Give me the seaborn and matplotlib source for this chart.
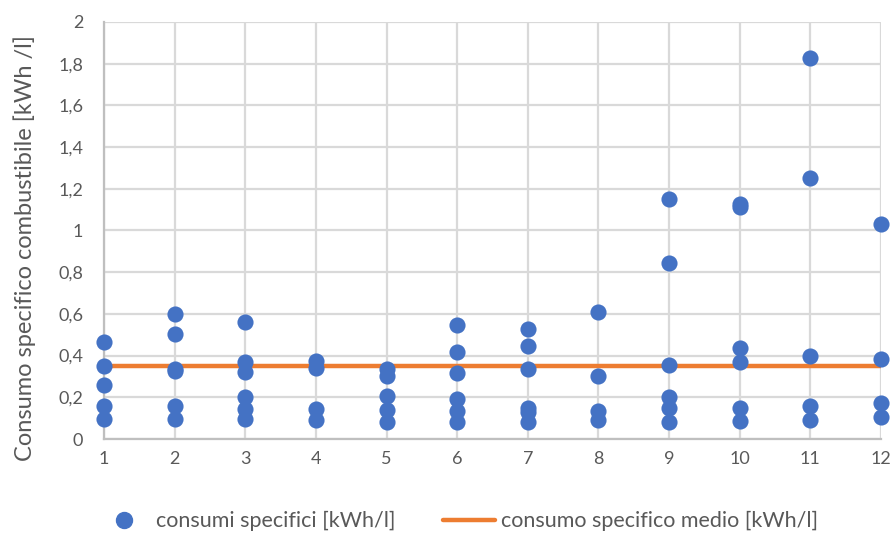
import matplotlib
matplotlib.use("Agg")
import matplotlib.pyplot as plt
from matplotlib.lines import Line2D
from matplotlib.ticker import FuncFormatter, MultipleLocator
import seaborn as sns
import pandas as pd

# Specific consumption readings per group (kWh/l)
g1 = [0.467, 0.352, 0.258, 0.160, 0.097]
g2 = [0.598, 0.504, 0.335, 0.325, 0.160, 0.097]
g3 = [0.560, 0.368, 0.320, 0.203, 0.144, 0.096]
g4 = [0.374, 0.339, 0.144, 0.091]
g5 = [0.335, 0.300, 0.208, 0.140, 0.082]
g6 = [0.547, 0.416, 0.318, 0.192, 0.136, 0.083]
g7 = [0.528, 0.448, 0.334, 0.147, 0.130, 0.082]
g8 = [0.610, 0.302, 0.136, 0.091]
g9 = [1.149, 0.843, 0.355, 0.203, 0.147, 0.083]
g10 = [1.125, 1.115, 0.435, 0.371, 0.147, 0.088]
g11 = [1.826, 1.250, 0.398, 0.158, 0.091]
g12 = [1.031, 0.384, 0.174, 0.104]
groups = [1, 2, 3, 4, 5, 6, 7, 8, 9, 10, 11, 12]
readings = [g1, g2, g3, g4, g5, g6, g7, g8, g9, g10, g11, g12]

# Average specific consumption
mean_value = 0.352

labels = ["consumi specifici [kWh/l]", "consumo specifico medio [kWh/l]"]
y_title = "Consumo specifico combustibile [kWh /l]"

points = pd.DataFrame(
    [(g, v) for g, vals in zip(groups, readings) for v in vals],
    columns=["gruppo", "consumo"],
)
mean_df = pd.DataFrame({"gruppo": [groups[0], groups[-1]],
                        "consumo": [mean_value, mean_value]})

sns.set_theme(style="white")
plt.rcParams["font.family"] = ["Lato", "DejaVu Sans"]

blue = "#4472C4"
orange = "#ED7D31"
text_col = "#595959"
grid_col = "#D9D9D9"

fig = plt.figure(figsize=(8.95, 5.34), dpi=100)
ax = fig.add_axes([104 / 895, 1 - 439 / 534, (881 - 104) / 895, (439 - 22) / 534])

sns.lineplot(data=mean_df, x="gruppo", y="consumo", ax=ax, color=orange,
             linewidth=3.2, zorder=3, legend=False)
sns.scatterplot(data=points, x="gruppo", y="consumo", ax=ax, color=blue,
                s=135, linewidth=0, zorder=4, clip_on=False, legend=False)

ax.set_xlim(1, 12)
ax.set_ylim(0, 2)
ax.xaxis.set_major_locator(MultipleLocator(1))
ax.yaxis.set_major_locator(MultipleLocator(0.2))
ax.yaxis.set_major_formatter(FuncFormatter(
    lambda v, _: ("%.1f" % v).rstrip("0").rstrip(".").replace(".", ",")))

ax.grid(True, color=grid_col, linewidth=1.6, zorder=0)
ax.set_axisbelow(True)
for side in ["top", "right"]:
    ax.spines[side].set_visible(False)
for side in ["left", "bottom"]:
    ax.spines[side].set_color("#BFBFBF")
    ax.spines[side].set_linewidth(1.6)

ax.tick_params(axis="both", length=0, labelsize=13, colors=text_col)
ax.tick_params(axis="y", pad=15)
ax.tick_params(axis="x", pad=9)
ax.set_xlabel("")
ax.set_ylabel(y_title, fontsize=17, color=text_col)
ax.yaxis.set_label_coords(-0.088, 0.458)

handles = [
    Line2D([], [], marker="o", linestyle="none", color=blue, markersize=11.5),
    Line2D([], [], color=orange, linewidth=3.2),
]
fig.legend(handles, labels, loc="center", bbox_to_anchor=(458 / 895, 1 - 521 / 534),
           ncol=2, frameon=False, fontsize=15.5, labelcolor=text_col,
           handlelength=2.4, columnspacing=2.2, handletextpad=0.3)

fig.savefig("out.png", dpi=100)
